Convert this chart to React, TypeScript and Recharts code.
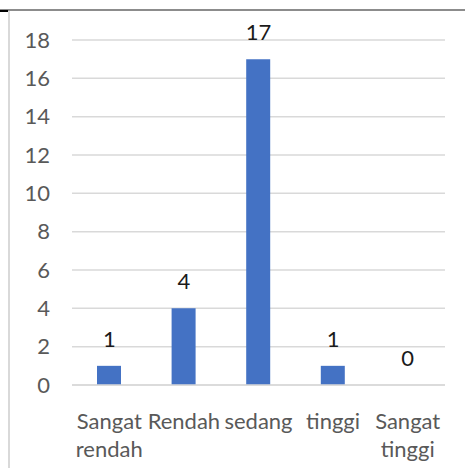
import React from 'react';
import { ComposedChart, Bar, Line, XAxis, YAxis, CartesianGrid, LabelList } from 'recharts';

const categories = ['Sangat rendah', 'Rendah', 'sedang', 'tinggi', 'Sangat tinggi'];
const counts = [1, 4, 17, 1, 0];
const yTicks = [0, 2, 4, 6, 8, 10, 12, 14, 16, 18];

const data = categories.map((name, i) => ({ name, value: counts[i] }));

const FONT = 'Lato, "Open Sans", sans-serif';

// category labels wrap word by word, like the original
const CategoryTick = (props: any) => {
  const { x, y, payload } = props;
  const words: string[] = String(payload.value).split(' ');
  return (
    <text x={x} y={y} textAnchor="middle" fill="#595959" fontSize={22} fontFamily={FONT}>
      {words.map((w, i) => (
        <tspan key={i} x={x} dy={i === 0 ? 36 : 28}>{w}</tspan>
      ))}
    </text>
  );
};

const App: React.FC = () => {
  return (
    <div style={{ position: 'absolute', left: 0, top: 0, width: 465, height: 468, background: '#fff', overflow: 'hidden' }}>
      {/* frame bits visible in the cropped screenshot */}
      <div style={{ position: 'absolute', left: 0, top: 9, width: 465, height: 2, background: '#8c8c8c' }} />
      <div style={{ position: 'absolute', left: 0, top: 10, width: 8, height: 2, background: '#000' }} />
      <div style={{ position: 'absolute', left: 8, top: 11, width: 2, height: 457, background: '#d9d9d9' }} />
      <div style={{ position: 'absolute', left: 0, top: 0 }}>
        <ComposedChart width={465} height={468} data={data} margin={{ top: 40, right: 20, bottom: 0, left: 0 }}>
          <CartesianGrid vertical={false} stroke="#d9d9d9" strokeWidth={1.5} />
          <XAxis
            dataKey="name"
            axisLine={{ stroke: '#d9d9d9', strokeWidth: 1.5 }}
            tickLine={false}
            height={83}
            interval={0}
            tick={<CategoryTick />}
          />
          <YAxis
            domain={[0, 18]}
            ticks={yTicks}
            width={72}
            axisLine={false}
            tickLine={false}
            tickSize={0}
            tickMargin={22}
            tick={{ fill: '#595959', fontSize: 22, fontFamily: FONT }}
          />
          <Bar dataKey="value" fill="#4472c4" barSize={24} isAnimationActive={false} />
          {/* invisible line just to carry the data labels (including the 0) */}
          <Line dataKey="value" stroke="none" dot={false} activeDot={false} isAnimationActive={false}>
            <LabelList dataKey="value" position="top" offset={19} fill="#1a1a1a" fontSize={22} fontFamily={FONT} />
          </Line>
        </ComposedChart>
      </div>
    </div>
  );
};

export default App;
